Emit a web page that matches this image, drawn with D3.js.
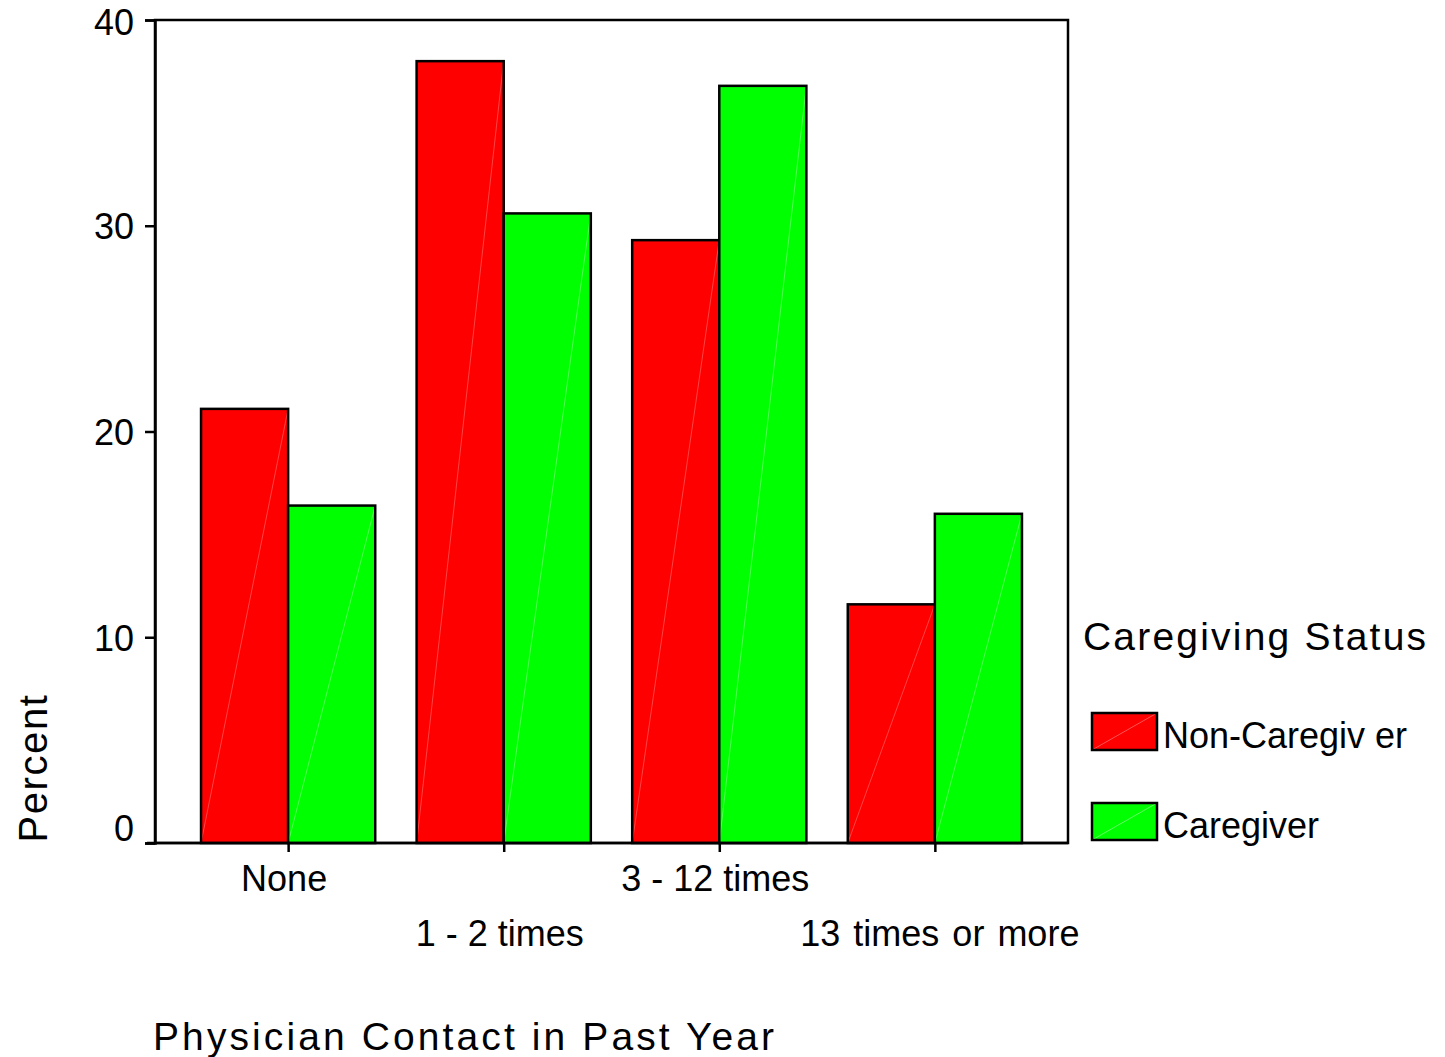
<!DOCTYPE html>
<html><head><meta charset="utf-8">
<script src="https://cdn.jsdelivr.net/npm/d3@7"></script>
<style>body{margin:0;background:#fff}svg{display:block}text{font-family:"Liberation Sans",Arial,sans-serif;fill:#000}</style>
</head><body>
<svg id="c" width="1445" height="1057"></svg>
<script>
const categories = ["None","1 - 2 times","3 - 12 times","13 times or more"];
const series = ["Non-Caregiver","Caregiver"];
const seriesLabels = ["Non-Caregiv er","Caregiver"];
const nonCaregiver = [21.1, 38.0, 29.3, 11.6];
const caregiver = [16.4, 30.6, 36.8, 16.0];
const yTicks = [0,10,20,30,40];
const colors = ["#ff0000","#00ff00"];
const highlight = ["#ff6a6a","#7dff7d"];

const svg = d3.select("#c");
const L=155, R=1068, T=20, B=843;
const y = d3.scaleLinear().domain([0,40]).range([B,T]);
const x0 = d3.scaleBand().domain(categories).range([L,R]).paddingInner(0.192).paddingOuter(0.2136);
const x1 = d3.scaleBand().domain(series).range([0,x0.bandwidth()]);
const vals = [nonCaregiver, caregiver];

// frame
svg.append("rect").attr("x",L).attr("y",T).attr("width",R-L).attr("height",B-T)
  .attr("fill","none").attr("stroke","#000").attr("stroke-width",2.5);

// bars
categories.forEach((c,i)=>{
  series.forEach((s,j)=>{
    const bx = x0(c)+x1(s), bw = x1.bandwidth(), by = y(vals[j][i]);
    svg.append("rect").attr("x",bx).attr("y",by).attr("width",bw).attr("height",B-by)
      .attr("fill",colors[j]);
    svg.append("line").attr("x1",bx).attr("y1",B).attr("x2",bx+bw).attr("y2",by)
      .attr("stroke",highlight[j]).attr("stroke-width",0.8).attr("opacity",0.8);
    svg.append("rect").attr("x",bx).attr("y",by).attr("width",bw).attr("height",B-by)
      .attr("fill","none").attr("stroke","#000").attr("stroke-width",2.5);
  });
});

// y axis
const ya = svg.append("g").attr("transform",`translate(${L},0)`)
  .call(d3.axisLeft(y).tickValues(yTicks).tickSize(10).tickPadding(11).tickFormat(d3.format("d")));
ya.attr("font-family",null).attr("font-size",null);
ya.select(".domain").attr("stroke-width",2.5);
ya.selectAll(".tick line").attr("stroke-width",2.5);
ya.selectAll(".tick text").style("font-size","36px").attr("dy","0.36em")
  .attr("transform",d=>d===0?"translate(0,-15)":(d===40?"translate(0,2)":null));

// x axis
const xa = svg.append("g").attr("transform",`translate(0,${B})`)
  .call(d3.axisBottom(d3.scalePoint().domain(categories).range([x0(categories[0])+x0.bandwidth()/2, x0(categories[3])+x0.bandwidth()/2])).tickSize(9).tickFormat(""));
xa.select(".domain").remove();
xa.selectAll(".tick line").attr("stroke-width",2.5);
svg.append("line").attr("x1",L-8).attr("x2",R).attr("y1",B).attr("y2",B).attr("stroke","#000").attr("stroke-width",2.5);
const labelShift = [-4,-4,-4,5];
categories.forEach((c,i)=>{
  svg.append("text").attr("x",x0(c)+x0.bandwidth()/2+labelShift[i]).attr("y",i%2===0?891:946)
    .attr("text-anchor","middle").style("font-size","36px").style("word-spacing",i===3?"3px":null).text(c);
});

// axis titles
svg.append("text").attr("transform","translate(47,768) rotate(-90)").attr("text-anchor","middle")
  .style("font-size","40px").style("letter-spacing","1.6px").text("Percent");
svg.append("text").attr("x",153).attr("y",1050).style("font-size","39px").style("letter-spacing","3.1px").text("Physician Contact in Past Year");

// legend
svg.append("text").attr("x",1083).attr("y",650).style("font-size","39px").style("letter-spacing","2.2px").text("Caregiving Status");
const lg = svg.append("g");
series.forEach((s,j)=>{
  const yy = 713 + j*90;
  lg.append("rect").attr("x",1092).attr("y",yy).attr("width",65).attr("height",37).attr("fill",colors[j]);
  lg.append("line").attr("x1",1092).attr("y1",yy+37).attr("x2",1157).attr("y2",yy).attr("stroke",highlight[j]).attr("stroke-width",0.8);
  lg.append("rect").attr("x",1092).attr("y",yy).attr("width",65).attr("height",37).attr("fill","none").attr("stroke","#000").attr("stroke-width",2.5);
  lg.append("text").attr("x",1163).attr("y",yy+35).style("font-size","36px").text(seriesLabels[j]);
});
</script>
</body></html>
